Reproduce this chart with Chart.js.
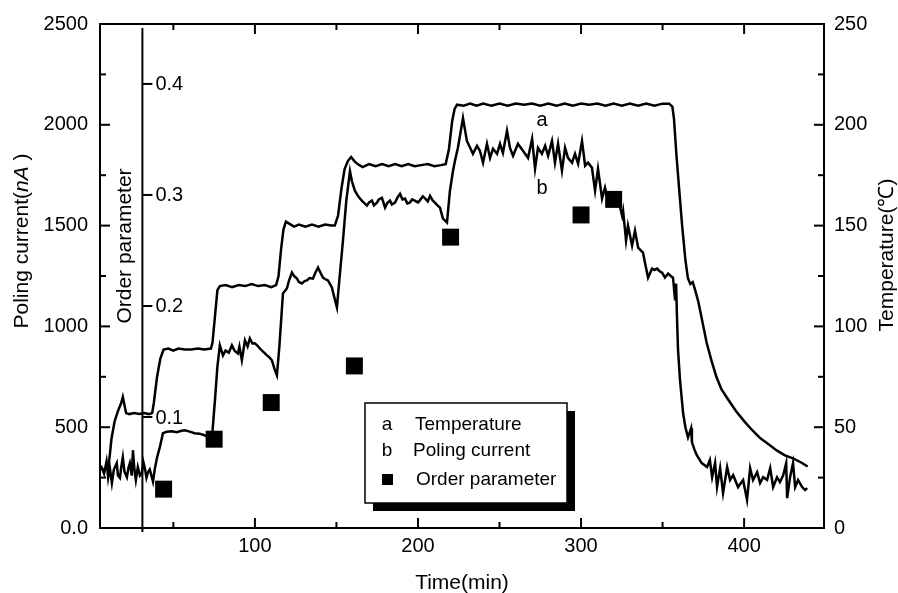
<!DOCTYPE html>
<html>
<head>
<meta charset="utf-8">
<script src="https://cdn.jsdelivr.net/npm/chart.js@4.4.1/dist/chart.umd.min.js"></script>
<style>
  body { margin: 0; background: #fff; }
</style>
</head>
<body>
<canvas id="chart" width="898" height="593"></canvas>
<script>
const FONT = 'Arial, "Liberation Sans", Helvetica, sans-serif';

// curve a: temperature (deg C) against time (min)
const tempTime = [5, 8, 10, 11, 12, 14, 16, 18, 19, 20, 21, 23, 26, 29, 32, 35, 37, 38, 40, 42, 44,
  47, 50, 53, 57, 61, 65, 69, 73, 74, 75.5, 77, 78.5, 82, 86, 90, 94, 98, 102, 106, 110, 113,
  114.5, 116, 117.5, 119, 121, 124, 127, 131, 135, 139, 143, 147, 149, 151, 153, 155, 157, 159,
  161, 163, 166, 170, 174, 178, 182, 186, 190, 194, 198, 202, 206, 210, 214, 217, 219, 221,
  222.5, 224, 228, 232, 236, 240, 245, 250, 255, 260, 265, 270, 275, 280, 285, 290, 295, 300,
  305, 310, 315, 320, 325, 330, 335, 340, 345, 350, 354, 356, 357, 358.5, 360, 362, 364, 365.5,
  367, 368.5, 370, 372, 374, 377, 380, 383, 386, 390, 395, 400, 405, 410, 415, 420, 425, 430,
  435, 439];
const tempValues = [29.5, 29, 30, 36, 44, 53, 58, 62, 65, 61, 57, 56.5, 57, 56.5, 57, 56.5, 57, 62, 75, 84, 88.5,
  89, 88, 89, 88.5, 88.5, 89, 88.5, 89, 92, 105, 118, 120, 120.5, 119.5, 120.5, 120, 121, 120, 120.5, 119.5, 120.5,
  125, 138, 148, 152, 151, 149.5, 150.5, 149.5, 150.5, 149.5, 150.5, 150, 150, 155, 168, 178, 182, 184,
  182, 180.5, 179, 180.5, 179.5, 180.5, 179.5, 180.5, 179.5, 180.5, 179.5, 180, 180.5, 179.5, 180, 180.5, 188, 202,
  208, 210, 209.5, 210.5, 209.5, 210.5, 209.5, 210.5, 209.5, 210.5, 210, 210.5, 209.5, 210.5, 209.5, 210.5, 209.5, 210.5,
  210, 210.5, 209.5, 210.5, 209.5, 210.5, 209.5, 210.5, 209.5, 210.5, 210.5, 209, 203, 185, 170, 150, 133, 124,
  121, 122, 118, 112, 104, 92, 83, 75, 69, 64, 58, 53, 48.5, 44.5, 41.5, 38.5, 36, 34.5,
  32.5, 30.5];

// curve b: poling current (nA) against time (min)
const currentTime = [5, 6, 7.5, 9, 10, 11, 12.3, 13.5, 15.3, 16, 17.2, 18, 19, 20, 21.5, 22.5, 23.3, 24.5,
  25.2, 26, 27, 28.2, 29.5, 30.7, 31.5, 32.5, 33.5, 34.4, 35.5, 36.8, 37.5, 38.7, 40, 41.7, 43.6,
  46, 49, 52, 55, 57, 60, 63, 66, 69, 72.4, 73.6, 75.5, 77, 78.5, 80.4, 82, 84, 85.9, 87.5, 89.6,
  90.5, 92, 93.9, 95.5, 96.9, 98.5, 100, 101.5, 103, 105, 107.4, 109, 110.4, 112.3, 113.5, 115,
  117.2, 119.6, 121, 122.7, 124, 125.8, 127, 128.8, 130.5, 131.9, 133.5, 135.6, 137, 138.7, 140,
  141.7, 143, 144.8, 147.2, 148.5, 150.3, 152, 154, 156, 158.3, 159.5, 161.3, 163, 164.4, 166,
  168.7, 170, 171.8, 173, 174.8, 176, 177.9, 179.8, 181, 182.8, 184, 185.9, 187.5, 189, 190.5,
  192, 193.5, 195, 196.5, 198, 200, 201, 203, 204, 206, 207.4, 209, 210.4, 212, 213.5, 215.3,
  217.8, 219.6, 221.5, 222.7, 224.5, 227.6, 230, 232, 233.7, 236.2, 238, 239.9, 242.3, 244.2,
  246, 248.5, 250.3, 252.1, 254.6, 256.4, 258.3, 261.3, 264.4, 267.5, 270, 271.8, 273.6, 276,
  278, 279.8, 282.2, 284, 285.9, 288.3, 290.2, 292, 294.5, 296.3, 298.2, 300.6, 302.5, 304.3,
  306.7, 308.6, 310.4, 312.9, 314.7, 316, 318, 320, 322, 324, 325.2, 325.8, 327.6, 328.8, 331.3,
  333.1, 335, 338, 339.3, 341.1, 343.6, 345, 346.6, 348, 349.7, 351.5, 353.4, 355, 356.4, 357.7,
  358.3, 358.9, 359.5, 360.7, 362.6, 364, 365.6, 367.5, 368, 369.5, 371, 374, 377.3, 379, 380.4,
  382.2, 383.4, 385.3, 387.1, 389.6, 391.4, 393.3, 396.3, 399.4, 401.8, 403.7, 405.5, 408, 409.8,
  411.7, 414.1, 416, 417.8, 420.2, 422, 424, 425.8, 426.4, 428.2, 430, 431.3, 433.1, 435.6, 437.4,
  438.7];
const currentValues = [287, 300, 270, 330, 250, 300, 223, 290, 322, 260, 248, 300, 351, 280, 252, 300, 322, 260,
  386, 300, 238, 302, 260, 272, 330, 297, 250, 277, 290, 252, 230, 297, 350, 401, 470,
  478, 480, 475, 482, 485, 478, 470, 468, 460, 445, 440, 634, 800, 906, 856, 880, 870, 906, 880, 866,
  900, 832, 931, 900, 940, 915, 916, 905, 891, 875, 856, 845, 832, 782, 757, 900,
  1163, 1188, 1230, 1267, 1250, 1237, 1220, 1213, 1225, 1228, 1240, 1237, 1265, 1292, 1270,
  1242, 1235, 1228, 1193, 1150, 1094, 1250, 1426, 1620, 1770, 1720, 1673, 1650, 1634, 1620,
  1599, 1615, 1624, 1600, 1614, 1630, 1638, 1589, 1610, 1624, 1605, 1614, 1640, 1658, 1630,
  1634, 1610, 1614, 1630, 1624, 1615, 1624, 1645, 1638, 1620, 1648, 1625, 1614, 1600, 1589, 1535,
  1515, 1673, 1772, 1822, 1886, 2034, 1920, 1886, 1856, 1896, 1871, 1812, 1906, 1836,
  1881, 1856, 1906, 1861, 1970, 1886, 1846, 1906, 1871, 1836, 1930, 1782, 1886, 1856,
  1896, 1846, 1920, 1812, 1906, 1772, 1886, 1836, 1812, 1856, 1807, 1920, 1797, 1812,
  1787, 1673, 1782, 1634, 1688, 1640, 1660, 1610, 1620, 1590, 1549, 1574, 1426, 1500, 1401,
  1475, 1391, 1366, 1312, 1242, 1287, 1280, 1287, 1275, 1267, 1242, 1262, 1250, 1242, 1129,
  1213, 1030, 881, 733, 569, 500, 450, 495, 426, 390, 361, 322, 302, 337, 252,
  322, 203, 297, 173, 302, 238, 262, 203, 238, 139, 297, 238, 277, 223,
  252, 238, 297, 203, 252, 228, 262, 322, 148, 252, 322, 203, 238, 203, 188,
  198];

// order parameter measurements
const orderTime = [44, 75, 110, 161, 220, 300, 320];
const orderValues = [0.035, 0.080, 0.113, 0.146, 0.262, 0.282, 0.296];

// axes
const xTickValues = [50, 100, 150, 200, 250, 300, 350, 400];
const xLabelValues = [100, 200, 300, 400];
const currentTickValues = [0, 250, 500, 750, 1000, 1250, 1500, 1750, 2000, 2250, 2500];
const tempTickValues = [0, 25, 50, 75, 100, 125, 150, 175, 200, 225, 250];
const orderTickValues = [0.1, 0.2, 0.3, 0.4];
const orderAxisTime = 31;

const toPoints = (xs, ys) => xs.map((x, i) => ({ x: x, y: ys[i] }));
const setTicks = (values) => (scale) => { scale.ticks = values.map(v => ({ value: v })); };

const frameScale = (extra) => Object.assign({
  type: "linear",
  grid: { drawOnChartArea: false, drawTicks: false },
  border: { color: "#000", width: 2 },
}, extra);

// ticks pointing into the plot, the inner order parameter axis, titles and legend
const decorations = {
  id: "decorations",
  afterDraw(chart) {
    const { ctx, chartArea: a, scales } = chart;
    ctx.save();
    ctx.strokeStyle = "#000";
    ctx.fillStyle = "#000";
    ctx.lineWidth = 2;
    const line = (x1, y1, x2, y2) => {
      ctx.beginPath();
      ctx.moveTo(x1, y1);
      ctx.lineTo(x2, y2);
      ctx.stroke();
    };

    xTickValues.forEach(v => {
      const x = scales.x.getPixelForValue(v);
      const len = xLabelValues.includes(v) ? 10 : 6;
      line(x, a.bottom, x, a.bottom - len);
      line(x, a.top, x, a.top + len);
    });
    currentTickValues.forEach(v => {
      const y = scales.y.getPixelForValue(v);
      line(a.left, y, a.left + (v % 500 === 0 ? 10 : 6), y);
    });
    tempTickValues.forEach(v => {
      const y = scales.yTemp.getPixelForValue(v);
      line(a.right, y, a.right - (v % 50 === 0 ? 10 : 6), y);
    });

    // order parameter axis inside the plot
    const ox = scales.x.getPixelForValue(orderAxisTime);
    line(ox, a.top + 4, ox, a.bottom + 4);
    ctx.font = "20px " + FONT;
    ctx.textAlign = "left";
    ctx.textBaseline = "middle";
    orderTickValues.forEach(v => {
      const y = scales.yOrder.getPixelForValue(v);
      line(ox, y, ox + 10, y);
      ctx.fillText(v.toFixed(1), ox + 13, y + 1);
    });

    const rotated = (x, y, draw) => {
      ctx.save();
      ctx.translate(x, y);
      ctx.rotate(-Math.PI / 2);
      draw();
      ctx.restore();
    };
    ctx.textAlign = "left";
    ctx.font = "21px " + FONT;
    rotated(ox - 17, 246, () => {
      ctx.textAlign = "center";
      ctx.fillText("Order parameter", 0, 0);
    });

    // left title with italic unit
    rotated(22, 241, () => {
      const parts = [["Poling current(", "21px "], ["nA", "italic 21px "], [" )", "21px "]];
      let total = 0;
      parts.forEach(p => { ctx.font = p[1] + FONT; total += ctx.measureText(p[0]).width; });
      let cx = -total / 2;
      parts.forEach(p => {
        ctx.font = p[1] + FONT;
        ctx.fillText(p[0], cx, 0);
        cx += ctx.measureText(p[0]).width;
      });
    });
    ctx.font = "21px " + FONT;
    rotated(887, 255, () => {
      ctx.textAlign = "center";
      ctx.fillText("Temperature(\u2103)", 0, 0);
    });
    ctx.textAlign = "center";
    ctx.fillText("Time(min)", 462, 583);

    // curve labels
    ctx.font = "20px " + FONT;
    ctx.fillText("a", 542, 120);
    ctx.fillText("b", 542, 188);

    // legend box with drop shadow
    ctx.fillRect(373, 411, 202, 100);
    ctx.fillStyle = "#fff";
    ctx.fillRect(365, 403, 202, 100);
    ctx.lineWidth = 1.5;
    ctx.strokeRect(365, 403, 202, 100);
    ctx.fillStyle = "#000";
    ctx.font = "19px " + FONT;
    ctx.textAlign = "center";
    ctx.fillText("a", 387, 425);
    ctx.fillText("b", 387, 451);
    ctx.fillRect(382, 474, 11, 11);
    ctx.textAlign = "left";
    ctx.fillText("Temperature", 415, 425);
    ctx.fillText("Poling current", 413, 451);
    ctx.fillText("Order parameter", 416, 480);
    ctx.restore();
  },
};

new Chart(document.getElementById("chart"), {
  type: "line",
  data: {
    datasets: [
      {
        label: "Order parameter",
        data: toPoints(orderTime, orderValues),
        yAxisID: "yOrder",
        showLine: false,
        pointStyle: "rect",
        pointRadius: 12,
        pointBorderWidth: 0,
        backgroundColor: "#000",
        borderColor: "#000",
        order: 0,
      },
      {
        label: "Temperature",
        data: toPoints(tempTime, tempValues),
        yAxisID: "yTemp",
        borderColor: "#000",
        borderWidth: 2.5,
        pointRadius: 0,
        tension: 0,
        order: 1,
      },
      {
        label: "Poling current",
        data: toPoints(currentTime, currentValues),
        yAxisID: "y",
        borderColor: "#000",
        borderWidth: 2.5,
        pointRadius: 0,
        tension: 0,
        order: 2,
      },
    ],
  },
  options: {
    responsive: false,
    animation: false,
    layout: { padding: 0 },
    plugins: { legend: { display: false }, tooltip: { enabled: false } },
    scales: {
      x: frameScale({
        position: "bottom",
        min: 5,
        max: 449,
        afterBuildTicks: setTicks(xTickValues),
        afterFit: (s) => { s.height = 65; },
        ticks: {
          autoSkip: false,
          maxRotation: 0,
          padding: 6,
          color: "#000",
          font: { family: FONT, size: 20 },
          callback: (v) => (xLabelValues.includes(v) ? String(v) : ""),
        },
      }),
      xTop: frameScale({
        position: "top",
        min: 5,
        max: 449,
        afterFit: (s) => { s.height = 23; },
        ticks: { display: false },
      }),
      y: frameScale({
        position: "left",
        min: 0,
        max: 2500,
        afterBuildTicks: setTicks(currentTickValues),
        afterFit: (s) => { s.width = 100; },
        ticks: {
          autoSkip: false,
          padding: 12,
          color: "#000",
          font: { family: FONT, size: 20 },
          callback: (v) => (v === 0 ? "0.0" : v % 500 === 0 ? String(v) : ""),
        },
      }),
      yTemp: frameScale({
        position: "right",
        min: 0,
        max: 250,
        afterBuildTicks: setTicks(tempTickValues),
        afterFit: (s) => { s.width = 74; },
        ticks: {
          autoSkip: false,
          padding: 10,
          color: "#000",
          font: { family: FONT, size: 20 },
          callback: (v) => (v % 50 === 0 ? String(v) : ""),
        },
      }),
      yOrder: { type: "linear", display: false, min: 0, max: 0.454 },
    },
  },
  plugins: [decorations],
});
</script>
</body>
</html>
